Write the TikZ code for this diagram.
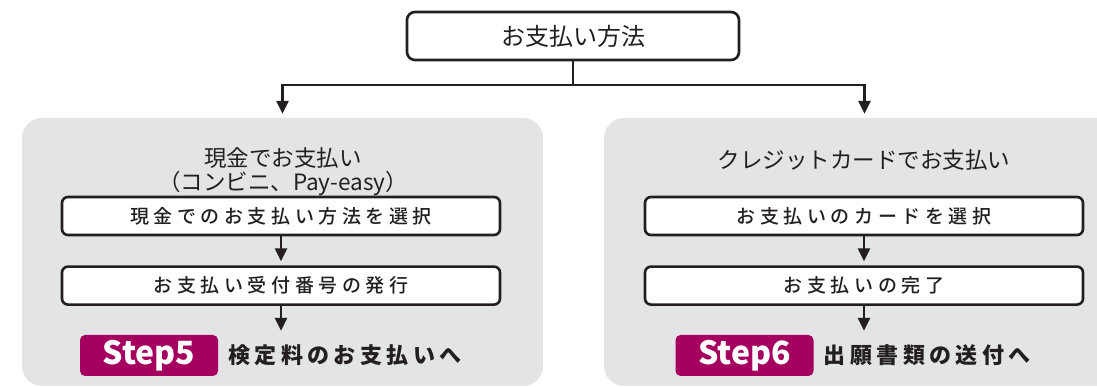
\documentclass[tikz,border=0pt]{standalone}
\usepackage{fontspec}
\setmainfont{Noto Sans CJK JP}
\newfontfamily\jpspaced{Noto Sans CJK JP Medium}[LetterSpace=24]
\newfontfamily\jpbold{Noto Sans CJK JP}[LetterSpace=20]
\usepackage{xcolor}
\usepackage{tikz}
\usetikzlibrary{arrows.meta, positioning, calc}
\definecolor{panelgray}{RGB}{227,228,230}
\definecolor{stepred}{RGB}{165,0,95}
\definecolor{ink}{RGB}{35,31,32}
\tikzstyle{method} = [rectangle, rounded corners=8pt, minimum width=332pt, minimum height=48pt, text centered, draw=ink, line width=2.6pt, fill=white, text=ink, font=\fontsize{24}{28}\selectfont]
\tikzstyle{panel} = [rectangle, rounded corners=20pt, minimum width=521pt, minimum height=268pt, fill=panelgray]
\tikzstyle{title} = [text=ink, align=center, font=\fontsize{22.5}{24}\selectfont]
\tikzstyle{stepbox} = [rectangle, rounded corners=6pt, minimum width=438pt, minimum height=38pt, text centered, draw=ink, line width=2.6pt, fill=white, text=ink, font=\fontsize{19}{20}\jpspaced]
\tikzstyle{badge} = [rectangle, rounded corners=5pt, minimum width=138pt, minimum height=41pt, fill=stepred, text=white, font=\fontsize{32}{36}\selectfont\bfseries]
\tikzstyle{next} = [inner sep=0pt, anchor=west, text=ink, font=\fontsize{22}{24}\jpbold\bfseries]
\tikzstyle{conn} = [draw=ink, line width=2.6pt]
\tikzstyle{arrow} = [conn, -{Triangle[length=13pt,width=12pt]}, shorten >=4pt]

\begin{document}
\begin{tikzpicture}[x=1pt, y=1pt]
    \clip (0,0) rectangle (1097,387);
    % Top
    \node[method] (method) at (573,351) {お支払い方法};
    \coordinate (fork) at (573,302);

    % Panels
    \node[panel] (cashpanel) at (282.5,135) {};
    \node[panel] (cardpanel) at (864.5,135) {};

    % Cash flow
    \node[title] (cashtitle) at (283,215.5) {現金でお支払い\\（コンビニ、Pay-easy）};
    \node[stepbox] (cash1) at (281,171) {現金でのお支払い方法を選択};
    \node[stepbox, below=29pt of cash1] (cash2) {お支払い受付番号の発行};
    \node[badge] (step5) at (149,31.5) {Step5};
    \node[next, right=10pt of step5] (fee) {検定料のお支払いへ};

    % Card flow
    \node[title] (cardtitle) at (864,227) {クレジットカードでお支払い};
    \node[stepbox] (card1) at (864,171) {お支払いのカードを選択};
    \node[stepbox, below=29pt of card1] (card2) {お支払いの完了};
    \node[badge] (step6) at (744.5,31.5) {Step6};
    \node[next, right=10pt of step6] (send) {出願書類の送付へ};

    % Connections
    \draw[conn] (method) -- (fork);
    \draw[arrow] (fork) -| (cashpanel.north);
    \draw[arrow] (fork) -| (cardpanel.north);
    \draw[arrow] (cash1) -- (cash2);
    \draw[arrow] (cash2) -- (cash2.south |- step5.north);
    \draw[arrow] (card1) -- (card2);
    \draw[arrow] (card2) -- (card2.south |- step6.north);
\end{tikzpicture}
\end{document}
